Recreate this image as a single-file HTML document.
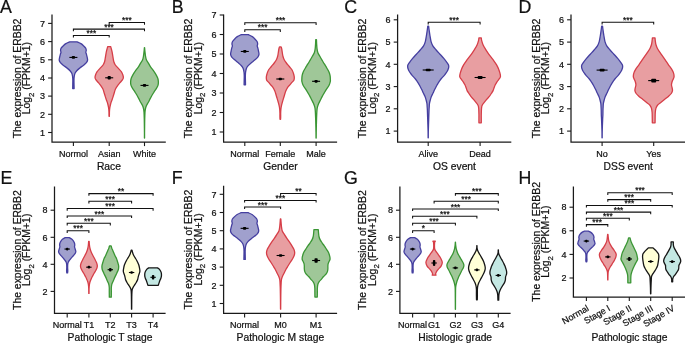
<!DOCTYPE html>
<html><head><meta charset="utf-8"><style>
html,body{margin:0;padding:0;background:#fff;}
svg{display:block;will-change:transform;}
text{font-family:"Liberation Sans", sans-serif;fill:#111;stroke:#111;stroke-width:0.22px;}
</style></head><body>
<svg width="685" height="343" viewBox="0 0 685 343">
<rect width="685" height="343" fill="#fff"/>
<g><text x="0.0" y="12.7" font-size="17.8">A</text>
<text transform="translate(20.8,78.5) rotate(-90)" text-anchor="middle" font-size="10.42">The expression of ERBB2</text>
<text transform="translate(30.4,78.2) rotate(-90)" text-anchor="middle" font-size="10.42">Log<tspan font-size="7.8" dy="3.3">2</tspan><tspan dy="-3.3"> (FPKM+1)</tspan></text>
<path d="M52.0,14.6V142.0H165.8" fill="none" stroke="#1a1a1a" stroke-width="1.25"/>
<path d="M48.1,132.5H52.0" stroke="#1a1a1a" stroke-width="1.1"/>
<text x="45.0" y="135.7" text-anchor="end" font-size="9.0" fill="#222">1</text>
<path d="M48.1,114.3H52.0" stroke="#1a1a1a" stroke-width="1.1"/>
<text x="45.0" y="117.5" text-anchor="end" font-size="9.0" fill="#222">2</text>
<path d="M48.1,96.1H52.0" stroke="#1a1a1a" stroke-width="1.1"/>
<text x="45.0" y="99.3" text-anchor="end" font-size="9.0" fill="#222">3</text>
<path d="M48.1,78.0H52.0" stroke="#1a1a1a" stroke-width="1.1"/>
<text x="45.0" y="81.2" text-anchor="end" font-size="9.0" fill="#222">4</text>
<path d="M48.1,59.8H52.0" stroke="#1a1a1a" stroke-width="1.1"/>
<text x="45.0" y="63.0" text-anchor="end" font-size="9.0" fill="#222">5</text>
<path d="M48.1,41.6H52.0" stroke="#1a1a1a" stroke-width="1.1"/>
<text x="45.0" y="44.8" text-anchor="end" font-size="9.0" fill="#222">6</text>
<path d="M48.1,23.4H52.0" stroke="#1a1a1a" stroke-width="1.1"/>
<text x="45.0" y="26.6" text-anchor="end" font-size="9.0" fill="#222">7</text>
<path d="M73.4,142.0V146.1" stroke="#1a1a1a" stroke-width="1.1"/>
<text x="73.4" y="157.0" text-anchor="middle" font-size="9.0" fill="#222">Normol</text>
<path d="M109.2,142.0V146.1" stroke="#1a1a1a" stroke-width="1.1"/>
<text x="109.2" y="157.0" text-anchor="middle" font-size="9.0" fill="#222">Asian</text>
<path d="M144.5,142.0V146.1" stroke="#1a1a1a" stroke-width="1.1"/>
<text x="144.5" y="157.0" text-anchor="middle" font-size="9.0" fill="#222">White</text>
<text x="108.9" y="169.7" text-anchor="middle" font-size="10.3">Race</text>
<path d="M69.82,41.79L76.98,41.79C77.64,42.09 79.80,42.90 80.92,43.60C82.04,44.30 82.94,45.21 83.73,45.96C84.52,46.72 85.24,47.42 85.66,48.14C86.08,48.87 86.22,49.63 86.25,50.33C86.27,51.02 85.78,51.69 85.80,52.33C85.83,52.96 86.17,53.33 86.40,54.14C86.62,54.96 86.94,56.23 87.14,57.23C87.33,58.23 87.70,59.23 87.58,60.14C87.46,61.05 87.11,61.81 86.40,62.69C85.68,63.57 84.37,64.54 83.29,65.42C82.20,66.29 80.97,67.08 79.88,67.96C78.80,68.84 77.59,69.81 76.78,70.69C75.96,71.57 75.43,72.23 75.00,73.23C74.57,74.23 74.36,75.54 74.19,76.69C74.01,77.84 73.99,78.75 73.96,80.14C73.94,81.54 74.01,83.66 74.04,85.05C74.06,86.44 74.10,87.92 74.11,88.50L72.69,88.50C72.70,87.92 72.74,86.44 72.76,85.05C72.79,83.66 72.86,81.54 72.84,80.14C72.81,78.75 72.79,77.84 72.61,76.69C72.44,75.54 72.23,74.23 71.80,73.23C71.37,72.23 70.84,71.57 70.02,70.69C69.21,69.81 68.00,68.84 66.92,67.96C65.83,67.08 64.60,66.29 63.51,65.42C62.43,64.54 61.12,63.57 60.40,62.69C59.69,61.81 59.34,61.05 59.22,60.14C59.10,59.23 59.47,58.23 59.66,57.23C59.86,56.23 60.18,54.96 60.40,54.14C60.63,53.33 60.97,52.96 61.00,52.33C61.02,51.69 60.53,51.02 60.55,50.33C60.58,49.63 60.72,48.87 61.14,48.14C61.56,47.42 62.28,46.72 63.07,45.96C63.86,45.21 64.76,44.30 65.88,43.60C67.00,42.90 69.16,42.09 69.82,41.79Z" fill="#A0A0CD" stroke="#453FA0" stroke-width="1.3" stroke-linejoin="round"/>
<path d="M69.40,57.42H77.40" stroke="#000" stroke-width="1.1"/>
<rect x="71.80" y="56.07" width="3.20" height="2.70" rx="0.8" fill="#000"/>
<path d="M107.77,46.55L110.63,46.55C110.72,46.86 110.94,47.52 111.18,48.40C111.42,49.27 111.84,50.68 112.08,51.80C112.32,52.92 112.45,54.00 112.63,55.10C112.81,56.20 112.98,57.30 113.18,58.40C113.38,59.50 113.47,60.60 113.83,61.70C114.19,62.80 114.56,63.88 115.33,65.00C116.10,66.12 117.44,67.28 118.43,68.40C119.42,69.52 120.54,70.60 121.28,71.70C122.02,72.80 122.54,73.95 122.88,75.00C123.22,76.05 123.48,77.10 123.33,78.00C123.18,78.90 122.57,79.58 121.98,80.40C121.39,81.22 120.48,82.08 119.78,82.90C119.08,83.72 118.50,84.28 117.78,85.30C117.06,86.32 116.06,87.77 115.48,89.00C114.90,90.23 114.66,91.47 114.28,92.70C113.90,93.93 113.56,95.18 113.18,96.40C112.80,97.62 112.40,98.78 111.98,100.00C111.56,101.22 111.03,102.47 110.68,103.70C110.33,104.93 110.08,106.18 109.88,107.40C109.68,108.62 109.56,109.51 109.48,111.00C109.40,112.49 109.40,115.46 109.38,116.35L109.02,116.35C109.00,115.46 109.00,112.49 108.92,111.00C108.84,109.51 108.72,108.62 108.52,107.40C108.32,106.18 108.07,104.93 107.72,103.70C107.37,102.47 106.84,101.22 106.42,100.00C106.00,98.78 105.60,97.62 105.22,96.40C104.84,95.18 104.50,93.93 104.12,92.70C103.74,91.47 103.50,90.23 102.92,89.00C102.34,87.77 101.34,86.32 100.62,85.30C99.90,84.28 99.32,83.72 98.62,82.90C97.92,82.08 97.01,81.22 96.42,80.40C95.83,79.58 95.22,78.90 95.07,78.00C94.92,77.10 95.18,76.05 95.52,75.00C95.86,73.95 96.38,72.80 97.12,71.70C97.86,70.60 98.98,69.52 99.97,68.40C100.96,67.28 102.30,66.12 103.07,65.00C103.84,63.88 104.21,62.80 104.57,61.70C104.93,60.60 105.02,59.50 105.22,58.40C105.42,57.30 105.59,56.20 105.77,55.10C105.95,54.00 106.08,52.92 106.32,51.80C106.56,50.68 106.98,49.27 107.22,48.40C107.46,47.52 107.68,46.86 107.77,46.55Z" fill="#E89EA1" stroke="#D63E48" stroke-width="1.3" stroke-linejoin="round"/>
<path d="M105.20,77.80H113.20" stroke="#000" stroke-width="1.1"/>
<rect x="107.60" y="76.10" width="3.20" height="3.40" rx="0.8" fill="#000"/>
<path d="M144.42,47.65L144.58,47.65C144.64,48.26 144.77,49.88 144.93,51.30C145.09,52.72 145.27,54.77 145.53,56.20C145.79,57.63 145.95,58.67 146.48,59.90C147.00,61.13 147.95,62.37 148.68,63.60C149.41,64.83 150.06,66.08 150.88,67.30C151.70,68.52 152.73,69.68 153.58,70.90C154.43,72.12 155.28,73.37 155.98,74.60C156.68,75.83 157.38,77.07 157.78,78.30C158.18,79.53 158.35,80.82 158.38,82.00C158.41,83.18 158.35,84.27 157.98,85.40C157.60,86.53 156.80,87.68 156.13,88.80C155.46,89.92 154.69,90.98 153.98,92.10C153.27,93.22 152.53,94.37 151.88,95.50C151.23,96.63 150.66,97.77 150.08,98.90C149.50,100.03 149.00,101.17 148.38,102.30C147.76,103.43 146.88,104.58 146.38,105.70C145.88,106.82 145.61,107.88 145.38,109.00C145.15,110.12 145.09,110.70 144.98,112.40C144.87,114.10 144.79,116.93 144.73,119.20C144.67,121.47 144.66,123.75 144.63,126.00C144.60,128.25 144.56,130.69 144.55,132.70C144.54,134.71 144.55,137.16 144.55,138.05L144.45,138.05C144.45,137.16 144.46,134.71 144.45,132.70C144.44,130.69 144.40,128.25 144.37,126.00C144.34,123.75 144.33,121.47 144.27,119.20C144.21,116.93 144.13,114.10 144.02,112.40C143.91,110.70 143.85,110.12 143.62,109.00C143.39,107.88 143.12,106.82 142.62,105.70C142.12,104.58 141.24,103.43 140.62,102.30C140.00,101.17 139.50,100.03 138.92,98.90C138.34,97.77 137.77,96.63 137.12,95.50C136.47,94.37 135.73,93.22 135.02,92.10C134.31,90.98 133.54,89.92 132.87,88.80C132.20,87.68 131.40,86.53 131.02,85.40C130.65,84.27 130.59,83.18 130.62,82.00C130.65,80.82 130.82,79.53 131.22,78.30C131.62,77.07 132.32,75.83 133.02,74.60C133.72,73.37 134.57,72.12 135.42,70.90C136.27,69.68 137.30,68.52 138.12,67.30C138.94,66.08 139.59,64.83 140.32,63.60C141.05,62.37 142.00,61.13 142.52,59.90C143.05,58.67 143.21,57.63 143.47,56.20C143.73,54.77 143.91,52.72 144.07,51.30C144.23,49.88 144.36,48.26 144.42,47.65Z" fill="#9FC798" stroke="#3A9634" stroke-width="1.3" stroke-linejoin="round"/>
<path d="M140.50,85.40H148.50" stroke="#000" stroke-width="1.1"/>
<rect x="142.90" y="84.05" width="3.20" height="2.70" rx="0.8" fill="#000"/>
<path d="M73.4,37.6V35.4H109.2V37.6" fill="none" stroke="#111" stroke-width="1.05"/>
<text x="91.3" y="36.0" text-anchor="middle" font-size="8.3" fill="#222">***</text>
<path d="M73.4,31.3V29.1H144.5V31.3" fill="none" stroke="#111" stroke-width="1.05"/>
<text x="109.0" y="29.7" text-anchor="middle" font-size="8.3" fill="#222">***</text>
<path d="M109.2,24.7V22.5H144.5V24.7" fill="none" stroke="#111" stroke-width="1.05"/>
<text x="126.8" y="23.1" text-anchor="middle" font-size="8.3" fill="#222">***</text></g>
<g><text x="171.8" y="12.7" font-size="17.8">B</text>
<text transform="translate(192.1,78.5) rotate(-90)" text-anchor="middle" font-size="10.42">The expression of ERBB2</text>
<text transform="translate(201.7,78.2) rotate(-90)" text-anchor="middle" font-size="10.42">Log<tspan font-size="7.8" dy="3.3">2</tspan><tspan dy="-3.3"> (FPKM+1)</tspan></text>
<path d="M223.6,14.6V142.0H337.1" fill="none" stroke="#1a1a1a" stroke-width="1.25"/>
<path d="M219.7,132.0H223.6" stroke="#1a1a1a" stroke-width="1.1"/>
<text x="216.6" y="135.2" text-anchor="end" font-size="9.0" fill="#222">1</text>
<path d="M219.7,112.5H223.6" stroke="#1a1a1a" stroke-width="1.1"/>
<text x="216.6" y="115.7" text-anchor="end" font-size="9.0" fill="#222">2</text>
<path d="M219.7,93.0H223.6" stroke="#1a1a1a" stroke-width="1.1"/>
<text x="216.6" y="96.2" text-anchor="end" font-size="9.0" fill="#222">3</text>
<path d="M219.7,73.5H223.6" stroke="#1a1a1a" stroke-width="1.1"/>
<text x="216.6" y="76.7" text-anchor="end" font-size="9.0" fill="#222">4</text>
<path d="M219.7,54.0H223.6" stroke="#1a1a1a" stroke-width="1.1"/>
<text x="216.6" y="57.2" text-anchor="end" font-size="9.0" fill="#222">5</text>
<path d="M219.7,34.5H223.6" stroke="#1a1a1a" stroke-width="1.1"/>
<text x="216.6" y="37.7" text-anchor="end" font-size="9.0" fill="#222">6</text>
<path d="M219.7,15.0H223.6" stroke="#1a1a1a" stroke-width="1.1"/>
<text x="216.6" y="18.2" text-anchor="end" font-size="9.0" fill="#222">7</text>
<path d="M244.8,142.0V146.1" stroke="#1a1a1a" stroke-width="1.1"/>
<text x="244.8" y="157.0" text-anchor="middle" font-size="9.0" fill="#222">Normal</text>
<path d="M280.3,142.0V146.1" stroke="#1a1a1a" stroke-width="1.1"/>
<text x="280.3" y="157.0" text-anchor="middle" font-size="9.0" fill="#222">Female</text>
<path d="M316.1,142.0V146.1" stroke="#1a1a1a" stroke-width="1.1"/>
<text x="316.1" y="157.0" text-anchor="middle" font-size="9.0" fill="#222">Male</text>
<text x="280.4" y="169.7" text-anchor="middle" font-size="10.3">Gender</text>
<path d="M241.22,34.66L248.38,34.66C249.04,34.99 251.20,35.89 252.32,36.65C253.44,37.40 254.34,38.37 255.13,39.18C255.92,39.99 256.64,40.74 257.06,41.52C257.48,42.30 257.62,43.11 257.65,43.86C257.67,44.61 257.18,45.32 257.20,46.00C257.23,46.69 257.57,47.08 257.80,47.96C258.02,48.83 258.34,50.20 258.54,51.27C258.73,52.34 259.10,53.41 258.98,54.39C258.86,55.36 258.51,56.18 257.80,57.12C257.08,58.06 255.77,59.10 254.69,60.04C253.60,60.99 252.37,61.83 251.28,62.78C250.20,63.72 248.99,64.76 248.18,65.70C247.36,66.64 246.83,67.36 246.40,68.43C245.97,69.50 245.76,70.90 245.59,72.13C245.41,73.37 245.39,74.34 245.36,75.84C245.34,77.34 245.41,79.60 245.44,81.11C245.46,82.61 245.50,84.22 245.51,84.84L244.09,84.84C244.10,84.22 244.14,82.61 244.16,81.11C244.19,79.60 244.26,77.34 244.24,75.84C244.21,74.34 244.19,73.37 244.01,72.13C243.84,70.90 243.63,69.50 243.20,68.43C242.77,67.36 242.24,66.64 241.42,65.70C240.61,64.76 239.40,63.72 238.32,62.78C237.23,61.83 236.00,60.99 234.91,60.04C233.83,59.10 232.52,58.06 231.80,57.12C231.09,56.18 230.74,55.36 230.62,54.39C230.50,53.41 230.87,52.34 231.06,51.27C231.26,50.20 231.58,48.83 231.80,47.96C232.03,47.08 232.37,46.69 232.40,46.00C232.42,45.32 231.93,44.61 231.95,43.86C231.98,43.11 232.12,42.30 232.54,41.52C232.96,40.74 233.68,39.99 234.47,39.18C235.26,38.37 236.16,37.40 237.28,36.65C238.40,35.89 240.56,34.99 241.22,34.66Z" fill="#A0A0CD" stroke="#453FA0" stroke-width="1.3" stroke-linejoin="round"/>
<path d="M240.80,51.47H248.80" stroke="#000" stroke-width="1.1"/>
<rect x="243.20" y="50.12" width="3.20" height="2.70" rx="0.8" fill="#000"/>
<path d="M279.47,46.95L281.13,46.95C281.23,47.29 281.54,48.08 281.73,49.00C281.92,49.92 282.09,51.33 282.28,52.50C282.47,53.67 282.58,54.83 282.88,56.00C283.18,57.17 283.50,58.33 284.08,59.50C284.66,60.67 285.51,61.83 286.38,63.00C287.25,64.17 288.33,65.33 289.28,66.50C290.23,67.67 291.38,68.83 292.08,70.00C292.78,71.17 293.11,72.33 293.48,73.50C293.85,74.67 294.21,75.88 294.28,77.00C294.35,78.12 294.28,79.30 293.88,80.20C293.48,81.10 292.55,81.62 291.88,82.40C291.21,83.18 290.58,84.08 289.88,84.90C289.18,85.72 288.36,86.28 287.68,87.30C287.00,88.32 286.30,89.77 285.78,91.00C285.26,92.23 284.96,93.47 284.58,94.70C284.20,95.93 283.84,97.18 283.48,98.40C283.12,99.62 282.76,100.78 282.43,102.00C282.10,103.22 281.74,104.47 281.48,105.70C281.22,106.93 281.01,108.18 280.88,109.40C280.75,110.62 280.71,111.78 280.68,113.00C280.65,114.22 280.70,115.66 280.68,116.70C280.66,117.74 280.60,118.83 280.58,119.25L280.02,119.25C280.00,118.83 279.94,117.74 279.92,116.70C279.90,115.66 279.95,114.22 279.92,113.00C279.89,111.78 279.85,110.62 279.72,109.40C279.59,108.18 279.38,106.93 279.12,105.70C278.86,104.47 278.50,103.22 278.17,102.00C277.84,100.78 277.48,99.62 277.12,98.40C276.76,97.18 276.40,95.93 276.02,94.70C275.64,93.47 275.34,92.23 274.82,91.00C274.30,89.77 273.60,88.32 272.92,87.30C272.24,86.28 271.42,85.72 270.72,84.90C270.02,84.08 269.39,83.18 268.72,82.40C268.05,81.62 267.12,81.10 266.72,80.20C266.32,79.30 266.25,78.12 266.32,77.00C266.39,75.88 266.75,74.67 267.12,73.50C267.49,72.33 267.82,71.17 268.52,70.00C269.22,68.83 270.37,67.67 271.32,66.50C272.27,65.33 273.35,64.17 274.22,63.00C275.09,61.83 275.94,60.67 276.52,59.50C277.10,58.33 277.42,57.17 277.72,56.00C278.02,54.83 278.13,53.67 278.32,52.50C278.51,51.33 278.68,49.92 278.87,49.00C279.06,48.08 279.37,47.29 279.47,46.95Z" fill="#E89EA1" stroke="#D63E48" stroke-width="1.3" stroke-linejoin="round"/>
<path d="M276.30,79.00H284.30" stroke="#000" stroke-width="1.1"/>
<rect x="278.70" y="77.65" width="3.20" height="2.70" rx="0.8" fill="#000"/>
<path d="M315.72,39.75L316.48,39.75C316.50,40.41 316.54,42.19 316.63,43.70C316.72,45.21 316.82,47.30 317.03,48.80C317.24,50.30 317.39,51.42 317.88,52.70C318.37,53.98 319.26,55.23 319.98,56.50C320.70,57.77 321.43,59.02 322.18,60.30C322.93,61.58 323.71,62.92 324.48,64.20C325.25,65.48 326.03,66.72 326.78,68.00C327.53,69.28 328.43,70.62 328.98,71.90C329.53,73.18 329.85,74.42 330.08,75.70C330.31,76.98 330.35,78.62 330.38,79.60C330.41,80.58 330.50,80.67 330.28,81.60C330.06,82.53 329.68,83.98 329.08,85.20C328.48,86.42 327.45,87.68 326.68,88.90C325.91,90.12 325.20,91.30 324.48,92.50C323.76,93.70 323.03,94.90 322.38,96.10C321.73,97.30 321.18,98.50 320.58,99.70C319.98,100.90 319.30,102.10 318.78,103.30C318.26,104.50 317.79,105.68 317.48,106.90C317.17,108.12 317.08,108.78 316.93,110.60C316.78,112.42 316.67,115.40 316.58,117.80C316.49,120.20 316.44,122.58 316.38,125.00C316.32,127.42 316.26,130.12 316.23,132.30C316.20,134.48 316.19,137.09 316.18,138.05L316.02,138.05C316.01,137.09 316.00,134.48 315.97,132.30C315.94,130.12 315.88,127.42 315.82,125.00C315.76,122.58 315.71,120.20 315.62,117.80C315.53,115.40 315.42,112.42 315.27,110.60C315.12,108.78 315.03,108.12 314.72,106.90C314.41,105.68 313.94,104.50 313.42,103.30C312.90,102.10 312.22,100.90 311.62,99.70C311.02,98.50 310.47,97.30 309.82,96.10C309.17,94.90 308.44,93.70 307.72,92.50C307.00,91.30 306.29,90.12 305.52,88.90C304.75,87.68 303.72,86.42 303.12,85.20C302.52,83.98 302.14,82.53 301.92,81.60C301.70,80.67 301.79,80.58 301.82,79.60C301.85,78.62 301.89,76.98 302.12,75.70C302.35,74.42 302.67,73.18 303.22,71.90C303.77,70.62 304.67,69.28 305.42,68.00C306.17,66.72 306.95,65.48 307.72,64.20C308.49,62.92 309.27,61.58 310.02,60.30C310.77,59.02 311.50,57.77 312.22,56.50C312.94,55.23 313.83,53.98 314.32,52.70C314.81,51.42 314.96,50.30 315.17,48.80C315.38,47.30 315.48,45.21 315.57,43.70C315.66,42.19 315.70,40.41 315.72,39.75Z" fill="#9FC798" stroke="#3A9634" stroke-width="1.3" stroke-linejoin="round"/>
<path d="M312.10,81.30H320.10" stroke="#000" stroke-width="1.1"/>
<rect x="314.50" y="79.95" width="3.20" height="2.70" rx="0.8" fill="#000"/>
<path d="M244.8,31.9V29.7H280.3V31.9" fill="none" stroke="#111" stroke-width="1.05"/>
<text x="262.6" y="30.3" text-anchor="middle" font-size="8.3" fill="#222">***</text>
<path d="M244.8,24.9V22.7H316.1V24.9" fill="none" stroke="#111" stroke-width="1.05"/>
<text x="280.5" y="23.3" text-anchor="middle" font-size="8.3" fill="#222">***</text></g>
<g><text x="344.2" y="12.7" font-size="17.8">C</text>
<text transform="translate(366.0,78.5) rotate(-90)" text-anchor="middle" font-size="10.42">The expression of ERBB2</text>
<text transform="translate(375.6,78.2) rotate(-90)" text-anchor="middle" font-size="10.42">Log<tspan font-size="7.8" dy="3.3">2</tspan><tspan dy="-3.3"> (FPKM+1)</tspan></text>
<path d="M397.6,14.6V142.0H511.3" fill="none" stroke="#1a1a1a" stroke-width="1.25"/>
<path d="M393.7,131.1H397.6" stroke="#1a1a1a" stroke-width="1.1"/>
<text x="390.6" y="134.3" text-anchor="end" font-size="9.0" fill="#222">1</text>
<path d="M393.7,108.8H397.6" stroke="#1a1a1a" stroke-width="1.1"/>
<text x="390.6" y="112.0" text-anchor="end" font-size="9.0" fill="#222">2</text>
<path d="M393.7,86.6H397.6" stroke="#1a1a1a" stroke-width="1.1"/>
<text x="390.6" y="89.8" text-anchor="end" font-size="9.0" fill="#222">3</text>
<path d="M393.7,64.3H397.6" stroke="#1a1a1a" stroke-width="1.1"/>
<text x="390.6" y="67.5" text-anchor="end" font-size="9.0" fill="#222">4</text>
<path d="M393.7,42.1H397.6" stroke="#1a1a1a" stroke-width="1.1"/>
<text x="390.6" y="45.3" text-anchor="end" font-size="9.0" fill="#222">5</text>
<path d="M393.7,19.8H397.6" stroke="#1a1a1a" stroke-width="1.1"/>
<text x="390.6" y="23.0" text-anchor="end" font-size="9.0" fill="#222">6</text>
<path d="M428.2,142.0V146.1" stroke="#1a1a1a" stroke-width="1.1"/>
<text x="428.2" y="157.0" text-anchor="middle" font-size="9.0" fill="#222">Alive</text>
<path d="M480.1,142.0V146.1" stroke="#1a1a1a" stroke-width="1.1"/>
<text x="480.1" y="157.0" text-anchor="middle" font-size="9.0" fill="#222">Dead</text>
<text x="454.5" y="169.7" text-anchor="middle" font-size="10.3">OS event</text>
<path d="M427.77,26.05L428.63,26.05C428.72,26.77 428.95,28.74 429.18,30.40C429.41,32.06 429.71,34.13 430.03,36.00C430.35,37.87 430.61,39.97 431.08,41.60C431.55,43.23 431.98,44.40 432.83,45.80C433.68,47.20 434.99,48.60 436.18,50.00C437.37,51.40 438.71,52.80 439.98,54.20C441.25,55.60 442.61,57.00 443.78,58.40C444.95,59.80 446.15,61.33 446.98,62.60C447.81,63.87 448.65,64.72 448.78,66.00C448.91,67.28 448.43,68.87 447.78,70.30C447.13,71.73 446.01,73.15 444.88,74.60C443.75,76.05 442.13,77.55 440.98,79.00C439.83,80.45 438.73,82.13 437.98,83.30C437.23,84.47 437.03,84.97 436.48,86.00C435.93,87.03 435.25,88.33 434.68,89.50C434.11,90.67 433.63,91.83 433.08,93.00C432.53,94.17 431.85,95.33 431.38,96.50C430.91,97.67 430.60,98.83 430.28,100.00C429.96,101.17 429.65,102.33 429.48,103.50C429.30,104.67 429.30,105.92 429.23,107.00C429.15,108.08 429.12,107.83 429.03,110.00C428.94,112.17 428.80,116.52 428.68,120.00C428.56,123.48 428.40,127.93 428.33,130.90C428.26,133.88 428.29,136.69 428.28,137.85L428.12,137.85C428.11,136.69 428.14,133.88 428.07,130.90C428.00,127.93 427.84,123.48 427.72,120.00C427.60,116.52 427.46,112.17 427.37,110.00C427.28,107.83 427.25,108.08 427.17,107.00C427.10,105.92 427.10,104.67 426.92,103.50C426.75,102.33 426.44,101.17 426.12,100.00C425.80,98.83 425.49,97.67 425.02,96.50C424.55,95.33 423.87,94.17 423.32,93.00C422.77,91.83 422.29,90.67 421.72,89.50C421.15,88.33 420.47,87.03 419.92,86.00C419.37,84.97 419.17,84.47 418.42,83.30C417.67,82.13 416.57,80.45 415.42,79.00C414.27,77.55 412.65,76.05 411.52,74.60C410.39,73.15 409.27,71.73 408.62,70.30C407.97,68.87 407.49,67.28 407.62,66.00C407.75,64.72 408.59,63.87 409.42,62.60C410.25,61.33 411.45,59.80 412.62,58.40C413.79,57.00 415.15,55.60 416.42,54.20C417.69,52.80 419.03,51.40 420.22,50.00C421.41,48.60 422.72,47.20 423.57,45.80C424.42,44.40 424.85,43.23 425.32,41.60C425.79,39.97 426.05,37.87 426.37,36.00C426.69,34.13 426.99,32.06 427.22,30.40C427.45,28.74 427.68,26.77 427.77,26.05Z" fill="#A0A0CD" stroke="#453FA0" stroke-width="1.3" stroke-linejoin="round"/>
<path d="M422.70,70.00H433.70" stroke="#000" stroke-width="1.1"/>
<rect x="425.75" y="68.65" width="4.90" height="2.70" rx="0.8" fill="#000"/>
<path d="M478.92,37.95L481.28,37.95C481.35,38.41 481.39,39.58 481.68,40.70C481.97,41.83 482.45,43.37 483.03,44.70C483.61,46.03 484.37,47.35 485.18,48.70C485.99,50.05 486.93,51.45 487.88,52.80C488.83,54.15 489.88,55.47 490.88,56.80C491.88,58.13 492.93,59.47 493.88,60.80C494.83,62.13 495.80,63.45 496.58,64.80C497.36,66.15 498.03,67.55 498.58,68.90C499.13,70.25 499.56,71.63 499.88,72.90C500.20,74.17 500.60,75.50 500.48,76.50C500.36,77.50 499.76,78.02 499.18,78.90C498.60,79.78 497.63,80.82 496.98,81.80C496.33,82.78 495.76,83.82 495.28,84.80C494.80,85.78 494.45,86.73 494.08,87.70C493.71,88.67 493.55,89.63 493.08,90.60C492.61,91.57 491.91,92.53 491.28,93.50C490.66,94.47 490.08,95.43 489.33,96.40C488.58,97.37 487.63,98.32 486.78,99.30C485.93,100.28 485.00,101.32 484.23,102.30C483.46,103.28 482.63,104.23 482.18,105.20C481.73,106.17 481.68,106.65 481.53,108.10C481.38,109.55 481.32,111.95 481.28,113.90C481.24,115.85 481.28,118.31 481.28,119.80C481.28,121.29 481.28,122.34 481.28,122.85L478.92,122.85C478.92,122.34 478.92,121.29 478.92,119.80C478.92,118.31 478.96,115.85 478.92,113.90C478.88,111.95 478.82,109.55 478.67,108.10C478.52,106.65 478.47,106.17 478.02,105.20C477.57,104.23 476.74,103.28 475.97,102.30C475.20,101.32 474.27,100.28 473.42,99.30C472.57,98.32 471.62,97.37 470.87,96.40C470.12,95.43 469.55,94.47 468.92,93.50C468.30,92.53 467.59,91.57 467.12,90.60C466.65,89.63 466.49,88.67 466.12,87.70C465.75,86.73 465.40,85.78 464.92,84.80C464.44,83.82 463.87,82.78 463.22,81.80C462.57,80.82 461.60,79.78 461.02,78.90C460.44,78.02 459.84,77.50 459.72,76.50C459.60,75.50 460.00,74.17 460.32,72.90C460.64,71.63 461.07,70.25 461.62,68.90C462.17,67.55 462.84,66.15 463.62,64.80C464.40,63.45 465.37,62.13 466.32,60.80C467.27,59.47 468.32,58.13 469.32,56.80C470.32,55.47 471.37,54.15 472.32,52.80C473.27,51.45 474.21,50.05 475.02,48.70C475.83,47.35 476.59,46.03 477.17,44.70C477.75,43.37 478.23,41.83 478.52,40.70C478.81,39.58 478.85,38.41 478.92,37.95Z" fill="#E89EA1" stroke="#D63E48" stroke-width="1.3" stroke-linejoin="round"/>
<path d="M474.60,77.50H485.60" stroke="#000" stroke-width="1.1"/>
<rect x="477.65" y="76.10" width="4.90" height="2.80" rx="0.8" fill="#000"/>
<path d="M428.2,24.5V22.3H480.1V24.5" fill="none" stroke="#111" stroke-width="1.05"/>
<text x="454.1" y="22.9" text-anchor="middle" font-size="8.3" fill="#222">***</text></g>
<g><text x="518.6" y="12.7" font-size="17.8">D</text>
<text transform="translate(539.7,78.5) rotate(-90)" text-anchor="middle" font-size="10.42">The expression of ERBB2</text>
<text transform="translate(549.3,78.2) rotate(-90)" text-anchor="middle" font-size="10.42">Log<tspan font-size="7.8" dy="3.3">2</tspan><tspan dy="-3.3"> (FPKM+1)</tspan></text>
<path d="M571.0,14.6V142.0H685.5" fill="none" stroke="#1a1a1a" stroke-width="1.25"/>
<path d="M567.1,131.1H571.0" stroke="#1a1a1a" stroke-width="1.1"/>
<text x="564.0" y="134.3" text-anchor="end" font-size="9.0" fill="#222">1</text>
<path d="M567.1,108.8H571.0" stroke="#1a1a1a" stroke-width="1.1"/>
<text x="564.0" y="112.0" text-anchor="end" font-size="9.0" fill="#222">2</text>
<path d="M567.1,86.6H571.0" stroke="#1a1a1a" stroke-width="1.1"/>
<text x="564.0" y="89.8" text-anchor="end" font-size="9.0" fill="#222">3</text>
<path d="M567.1,64.3H571.0" stroke="#1a1a1a" stroke-width="1.1"/>
<text x="564.0" y="67.5" text-anchor="end" font-size="9.0" fill="#222">4</text>
<path d="M567.1,42.1H571.0" stroke="#1a1a1a" stroke-width="1.1"/>
<text x="564.0" y="45.3" text-anchor="end" font-size="9.0" fill="#222">5</text>
<path d="M567.1,19.8H571.0" stroke="#1a1a1a" stroke-width="1.1"/>
<text x="564.0" y="23.0" text-anchor="end" font-size="9.0" fill="#222">6</text>
<path d="M602.1,142.0V146.1" stroke="#1a1a1a" stroke-width="1.1"/>
<text x="602.1" y="157.0" text-anchor="middle" font-size="9.0" fill="#222">No</text>
<path d="M653.7,142.0V146.1" stroke="#1a1a1a" stroke-width="1.1"/>
<text x="653.7" y="157.0" text-anchor="middle" font-size="9.0" fill="#222">Yes</text>
<text x="628.2" y="169.7" text-anchor="middle" font-size="10.3">DSS event</text>
<path d="M601.67,26.05L602.53,26.05C602.62,26.77 602.85,28.74 603.08,30.40C603.31,32.06 603.61,34.13 603.93,36.00C604.25,37.87 604.51,39.97 604.98,41.60C605.45,43.23 605.88,44.40 606.73,45.80C607.58,47.20 608.89,48.60 610.08,50.00C611.27,51.40 612.61,52.80 613.88,54.20C615.15,55.60 616.51,57.00 617.68,58.40C618.85,59.80 620.05,61.33 620.88,62.60C621.71,63.87 622.55,64.72 622.68,66.00C622.81,67.28 622.33,68.87 621.68,70.30C621.03,71.73 619.91,73.15 618.78,74.60C617.65,76.05 616.03,77.55 614.88,79.00C613.73,80.45 612.63,82.13 611.88,83.30C611.13,84.47 610.93,84.97 610.38,86.00C609.83,87.03 609.15,88.33 608.58,89.50C608.01,90.67 607.53,91.83 606.98,93.00C606.43,94.17 605.75,95.33 605.28,96.50C604.81,97.67 604.50,98.83 604.18,100.00C603.86,101.17 603.56,102.33 603.38,103.50C603.20,104.67 603.20,105.92 603.13,107.00C603.06,108.08 603.02,108.67 602.98,110.00C602.94,111.33 602.94,113.33 602.88,115.00C602.82,116.67 602.74,117.35 602.63,120.00C602.52,122.65 602.31,127.93 602.23,130.90C602.15,133.88 602.19,136.69 602.18,137.85L602.02,137.85C602.01,136.69 602.05,133.88 601.97,130.90C601.89,127.93 601.68,122.65 601.57,120.00C601.46,117.35 601.38,116.67 601.32,115.00C601.26,113.33 601.26,111.33 601.22,110.00C601.18,108.67 601.14,108.08 601.07,107.00C601.00,105.92 601.00,104.67 600.82,103.50C600.64,102.33 600.34,101.17 600.02,100.00C599.70,98.83 599.39,97.67 598.92,96.50C598.45,95.33 597.77,94.17 597.22,93.00C596.67,91.83 596.19,90.67 595.62,89.50C595.05,88.33 594.37,87.03 593.82,86.00C593.27,84.97 593.07,84.47 592.32,83.30C591.57,82.13 590.47,80.45 589.32,79.00C588.17,77.55 586.55,76.05 585.42,74.60C584.29,73.15 583.17,71.73 582.52,70.30C581.87,68.87 581.39,67.28 581.52,66.00C581.65,64.72 582.49,63.87 583.32,62.60C584.15,61.33 585.35,59.80 586.52,58.40C587.69,57.00 589.05,55.60 590.32,54.20C591.59,52.80 592.93,51.40 594.12,50.00C595.31,48.60 596.62,47.20 597.47,45.80C598.32,44.40 598.75,43.23 599.22,41.60C599.69,39.97 599.95,37.87 600.27,36.00C600.59,34.13 600.89,32.06 601.12,30.40C601.35,28.74 601.58,26.77 601.67,26.05Z" fill="#A0A0CD" stroke="#453FA0" stroke-width="1.3" stroke-linejoin="round"/>
<path d="M596.60,70.10H607.60" stroke="#000" stroke-width="1.1"/>
<rect x="599.65" y="68.75" width="4.90" height="2.70" rx="0.8" fill="#000"/>
<path d="M652.37,37.95L655.03,37.95C655.07,38.41 655.12,39.58 655.28,40.70C655.44,41.83 655.60,43.37 655.98,44.70C656.36,46.03 656.86,47.35 657.58,48.70C658.30,50.05 659.36,51.45 660.28,52.80C661.20,54.15 662.16,55.47 663.08,56.80C664.00,58.13 664.88,59.47 665.78,60.80C666.68,62.13 667.53,63.45 668.48,64.80C669.43,66.15 670.65,67.55 671.48,68.90C672.31,70.25 673.05,71.63 673.48,72.90C673.91,74.17 674.11,75.50 674.08,76.50C674.05,77.50 673.61,78.02 673.28,78.90C672.95,79.78 672.38,80.82 672.08,81.80C671.78,82.78 671.48,83.82 671.48,84.80C671.48,85.78 671.91,86.73 672.08,87.70C672.25,88.67 672.61,89.63 672.48,90.60C672.35,91.57 671.96,92.53 671.28,93.50C670.60,94.47 669.46,95.43 668.38,96.40C667.30,97.37 666.00,98.32 664.78,99.30C663.56,100.28 662.30,101.32 661.08,102.30C659.86,103.28 658.33,104.23 657.48,105.20C656.63,106.17 656.35,106.88 655.98,108.10C655.61,109.32 655.42,110.80 655.28,112.50C655.14,114.20 655.16,116.57 655.13,118.30C655.10,120.03 655.09,122.09 655.08,122.85L652.32,122.85C652.31,122.09 652.30,120.03 652.27,118.30C652.24,116.57 652.26,114.20 652.12,112.50C651.98,110.80 651.79,109.32 651.42,108.10C651.05,106.88 650.77,106.17 649.92,105.20C649.07,104.23 647.54,103.28 646.32,102.30C645.10,101.32 643.84,100.28 642.62,99.30C641.40,98.32 640.10,97.37 639.02,96.40C637.94,95.43 636.80,94.47 636.12,93.50C635.44,92.53 635.05,91.57 634.92,90.60C634.79,89.63 635.15,88.67 635.32,87.70C635.49,86.73 635.92,85.78 635.92,84.80C635.92,83.82 635.62,82.78 635.32,81.80C635.02,80.82 634.45,79.78 634.12,78.90C633.79,78.02 633.35,77.50 633.32,76.50C633.29,75.50 633.49,74.17 633.92,72.90C634.35,71.63 635.09,70.25 635.92,68.90C636.75,67.55 637.97,66.15 638.92,64.80C639.87,63.45 640.72,62.13 641.62,60.80C642.52,59.47 643.40,58.13 644.32,56.80C645.24,55.47 646.20,54.15 647.12,52.80C648.04,51.45 649.10,50.05 649.82,48.70C650.54,47.35 651.04,46.03 651.42,44.70C651.80,43.37 651.96,41.83 652.12,40.70C652.28,39.58 652.33,38.41 652.37,37.95Z" fill="#E89EA1" stroke="#D63E48" stroke-width="1.3" stroke-linejoin="round"/>
<path d="M648.20,80.60H659.20" stroke="#000" stroke-width="1.1"/>
<rect x="651.25" y="78.70" width="4.90" height="3.80" rx="0.8" fill="#000"/>
<path d="M602.1,24.5V22.3H653.7V24.5" fill="none" stroke="#111" stroke-width="1.05"/>
<text x="627.9" y="22.9" text-anchor="middle" font-size="8.3" fill="#222">***</text></g>
<g><text x="0.5" y="184.0" font-size="17.8">E</text>
<text transform="translate(20.8,250.1) rotate(-90)" text-anchor="middle" font-size="10.42">The expression of ERBB2</text>
<text transform="translate(30.4,249.8) rotate(-90)" text-anchor="middle" font-size="10.42">Log<tspan font-size="7.8" dy="3.3">2</tspan><tspan dy="-3.3"> (FPKM+1)</tspan></text>
<path d="M54.5,186.5V313.3H165.6" fill="none" stroke="#1a1a1a" stroke-width="1.25"/>
<path d="M50.6,291.4H54.5" stroke="#1a1a1a" stroke-width="1.1"/>
<text x="47.5" y="294.6" text-anchor="end" font-size="9.0" fill="#222">2</text>
<path d="M50.6,264.3H54.5" stroke="#1a1a1a" stroke-width="1.1"/>
<text x="47.5" y="267.5" text-anchor="end" font-size="9.0" fill="#222">4</text>
<path d="M50.6,237.3H54.5" stroke="#1a1a1a" stroke-width="1.1"/>
<text x="47.5" y="240.5" text-anchor="end" font-size="9.0" fill="#222">6</text>
<path d="M50.6,210.2H54.5" stroke="#1a1a1a" stroke-width="1.1"/>
<text x="47.5" y="213.4" text-anchor="end" font-size="9.0" fill="#222">8</text>
<path d="M67.2,313.3V317.4" stroke="#1a1a1a" stroke-width="1.1"/>
<text x="67.2" y="328.0" text-anchor="middle" font-size="9.0" fill="#222">Normal</text>
<path d="M88.9,313.3V317.4" stroke="#1a1a1a" stroke-width="1.1"/>
<text x="88.9" y="328.0" text-anchor="middle" font-size="9.0" fill="#222">T1</text>
<path d="M110.3,313.3V317.4" stroke="#1a1a1a" stroke-width="1.1"/>
<text x="110.3" y="328.0" text-anchor="middle" font-size="9.0" fill="#222">T2</text>
<path d="M131.6,313.3V317.4" stroke="#1a1a1a" stroke-width="1.1"/>
<text x="131.6" y="328.0" text-anchor="middle" font-size="9.0" fill="#222">T3</text>
<path d="M153.1,313.3V317.4" stroke="#1a1a1a" stroke-width="1.1"/>
<text x="153.1" y="328.0" text-anchor="middle" font-size="9.0" fill="#222">T4</text>
<text x="110.0" y="341.0" text-anchor="middle" font-size="10.3">Pathologic T stage</text>
<path d="M65.17,237.65L69.23,237.65C69.63,237.89 70.92,238.52 71.63,239.09C72.34,239.67 73.01,240.44 73.48,241.10C73.95,241.75 74.21,242.37 74.43,243.00C74.64,243.64 74.76,244.26 74.78,244.90C74.79,245.53 74.48,246.16 74.53,246.81C74.58,247.45 74.90,248.14 75.08,248.79C75.26,249.44 75.52,250.17 75.63,250.70C75.75,251.24 75.86,251.55 75.78,252.00C75.70,252.45 75.47,252.93 75.18,253.39C74.90,253.86 74.46,254.33 74.08,254.80C73.69,255.27 73.30,255.73 72.88,256.19C72.46,256.66 71.99,257.14 71.58,257.60C71.17,258.07 70.79,258.53 70.43,259.00C70.06,259.46 69.71,259.94 69.38,260.40C69.04,260.87 68.70,261.21 68.43,261.80C68.16,262.38 67.91,262.96 67.78,263.89C67.64,264.83 67.63,266.23 67.63,267.40C67.63,268.57 67.78,269.99 67.78,270.90C67.77,271.81 67.62,272.53 67.59,272.86L66.81,272.86C66.78,272.53 66.63,271.81 66.62,270.90C66.62,269.99 66.77,268.57 66.77,267.40C66.77,266.23 66.76,264.83 66.62,263.89C66.49,262.96 66.24,262.38 65.97,261.80C65.70,261.21 65.36,260.87 65.02,260.40C64.69,259.94 64.34,259.46 63.97,259.00C63.61,258.53 63.23,258.07 62.82,257.60C62.42,257.14 61.94,256.66 61.52,256.19C61.10,255.73 60.71,255.27 60.32,254.80C59.94,254.33 59.50,253.86 59.22,253.39C58.93,252.93 58.70,252.45 58.62,252.00C58.54,251.55 58.65,251.24 58.77,250.70C58.88,250.17 59.14,249.44 59.32,248.79C59.50,248.14 59.82,247.45 59.87,246.81C59.92,246.16 59.61,245.53 59.62,244.90C59.64,244.26 59.76,243.64 59.97,243.00C60.19,242.37 60.45,241.75 60.92,241.10C61.39,240.44 62.06,239.67 62.77,239.09C63.48,238.52 64.77,237.89 65.17,237.65Z" fill="#A0A0CD" stroke="#453FA0" stroke-width="1.3" stroke-linejoin="round"/>
<path d="M64.50,249.05H69.90" stroke="#000" stroke-width="1.1"/>
<rect x="66.00" y="247.70" width="2.40" height="2.70" rx="0.8" fill="#000"/>
<path d="M88.65,241.35L89.15,241.35C89.20,241.96 89.28,243.81 89.43,245.00C89.58,246.19 89.74,247.33 90.03,248.50C90.32,249.67 90.71,250.83 91.18,252.00C91.66,253.17 92.28,254.33 92.88,255.50C93.48,256.67 94.18,257.83 94.78,259.00C95.38,260.17 96.07,261.48 96.48,262.50C96.89,263.52 97.12,264.30 97.23,265.10C97.34,265.90 97.37,266.40 97.13,267.30C96.89,268.20 96.29,269.50 95.78,270.50C95.27,271.50 94.61,272.37 94.08,273.30C93.55,274.23 93.06,275.17 92.58,276.10C92.10,277.03 91.61,277.97 91.18,278.90C90.76,279.83 90.32,280.77 90.03,281.70C89.74,282.63 89.59,283.42 89.43,284.50C89.27,285.58 89.15,286.71 89.08,288.20C89.01,289.69 89.04,292.57 89.03,293.45L88.77,293.45C88.76,292.57 88.79,289.69 88.72,288.20C88.65,286.71 88.53,285.58 88.37,284.50C88.21,283.42 88.06,282.63 87.77,281.70C87.48,280.77 87.05,279.83 86.62,278.90C86.20,277.97 85.70,277.03 85.22,276.10C84.74,275.17 84.25,274.23 83.72,273.30C83.19,272.37 82.53,271.50 82.02,270.50C81.51,269.50 80.91,268.20 80.67,267.30C80.43,266.40 80.46,265.90 80.57,265.10C80.68,264.30 80.91,263.52 81.32,262.50C81.73,261.48 82.42,260.17 83.02,259.00C83.62,257.83 84.32,256.67 84.92,255.50C85.52,254.33 86.15,253.17 86.62,252.00C87.09,250.83 87.48,249.67 87.77,248.50C88.06,247.33 88.22,246.19 88.37,245.00C88.52,243.81 88.60,241.96 88.65,241.35Z" fill="#E89EA1" stroke="#D63E48" stroke-width="1.3" stroke-linejoin="round"/>
<path d="M86.20,267.20H91.60" stroke="#000" stroke-width="1.1"/>
<rect x="87.70" y="265.85" width="2.40" height="2.70" rx="0.8" fill="#000"/>
<path d="M109.47,245.85L111.13,245.85C111.23,246.23 111.44,247.29 111.73,248.10C112.02,248.91 112.49,249.82 112.88,250.70C113.27,251.58 113.70,252.52 114.08,253.40C114.46,254.28 114.78,255.13 115.18,256.00C115.58,256.87 116.11,257.73 116.48,258.60C116.85,259.47 117.10,260.33 117.38,261.20C117.66,262.07 117.96,262.95 118.18,263.80C118.40,264.65 118.65,265.35 118.68,266.30C118.71,267.25 118.68,268.40 118.38,269.50C118.08,270.60 117.36,271.83 116.88,272.90C116.40,273.97 115.95,274.90 115.48,275.90C115.01,276.90 114.53,277.90 114.08,278.90C113.63,279.90 113.18,280.92 112.78,281.90C112.38,282.88 111.92,283.82 111.68,284.80C111.44,285.78 111.39,286.63 111.33,287.80C111.27,288.97 111.34,290.24 111.33,291.80C111.32,293.36 111.29,296.26 111.28,297.15L109.32,297.15C109.31,296.26 109.28,293.36 109.27,291.80C109.26,290.24 109.33,288.97 109.27,287.80C109.21,286.63 109.16,285.78 108.92,284.80C108.68,283.82 108.22,282.88 107.82,281.90C107.42,280.92 106.97,279.90 106.52,278.90C106.07,277.90 105.59,276.90 105.12,275.90C104.65,274.90 104.20,273.97 103.72,272.90C103.24,271.83 102.52,270.60 102.22,269.50C101.92,268.40 101.89,267.25 101.92,266.30C101.95,265.35 102.20,264.65 102.42,263.80C102.64,262.95 102.94,262.07 103.22,261.20C103.50,260.33 103.75,259.47 104.12,258.60C104.49,257.73 105.02,256.87 105.42,256.00C105.82,255.13 106.14,254.28 106.52,253.40C106.90,252.52 107.33,251.58 107.72,250.70C108.11,249.82 108.58,248.91 108.87,248.10C109.16,247.29 109.37,246.23 109.47,245.85Z" fill="#9FC798" stroke="#3A9634" stroke-width="1.3" stroke-linejoin="round"/>
<path d="M107.60,269.70H113.00" stroke="#000" stroke-width="1.1"/>
<rect x="109.10" y="267.90" width="2.40" height="3.60" rx="0.8" fill="#000"/>
<path d="M131.22,250.05L131.98,250.05C132.06,250.39 132.25,251.32 132.48,252.10C132.71,252.88 132.98,253.82 133.38,254.70C133.78,255.58 134.36,256.52 134.88,257.40C135.40,258.28 136.00,259.13 136.48,260.00C136.96,260.87 137.38,261.73 137.78,262.60C138.18,263.47 138.60,264.33 138.88,265.20C139.16,266.07 139.31,266.92 139.48,267.80C139.65,268.68 139.85,269.73 139.88,270.50C139.91,271.27 139.86,271.67 139.68,272.40C139.50,273.13 139.04,274.08 138.78,274.90C138.52,275.72 138.33,276.48 138.13,277.30C137.93,278.12 137.87,278.98 137.58,279.80C137.29,280.62 136.84,281.38 136.38,282.20C135.92,283.02 135.35,283.88 134.83,284.70C134.30,285.52 133.67,286.28 133.23,287.10C132.79,287.92 132.41,288.38 132.18,289.60C131.95,290.82 131.90,292.37 131.83,294.40C131.75,296.43 131.75,299.34 131.73,301.80C131.70,304.26 131.69,307.92 131.68,309.15L131.52,309.15C131.51,307.92 131.50,304.26 131.47,301.80C131.44,299.34 131.44,296.43 131.37,294.40C131.30,292.37 131.25,290.82 131.02,289.60C130.79,288.38 130.41,287.92 129.97,287.10C129.53,286.28 128.90,285.52 128.37,284.70C127.84,283.88 127.28,283.02 126.82,282.20C126.36,281.38 125.91,280.62 125.62,279.80C125.33,278.98 125.27,278.12 125.07,277.30C124.87,276.48 124.68,275.72 124.42,274.90C124.16,274.08 123.70,273.13 123.52,272.40C123.34,271.67 123.29,271.27 123.32,270.50C123.35,269.73 123.55,268.68 123.72,267.80C123.89,266.92 124.04,266.07 124.32,265.20C124.60,264.33 125.02,263.47 125.42,262.60C125.82,261.73 126.24,260.87 126.72,260.00C127.20,259.13 127.80,258.28 128.32,257.40C128.84,256.52 129.42,255.58 129.82,254.70C130.22,253.82 130.49,252.88 130.72,252.10C130.95,251.32 131.14,250.39 131.22,250.05Z" fill="#FFFFD7" stroke="#161616" stroke-width="1.3" stroke-linejoin="round"/>
<path d="M128.90,272.50H134.30" stroke="#000" stroke-width="1.1"/>
<rect x="130.40" y="271.15" width="2.40" height="2.70" rx="0.8" fill="#000"/>
<path d="M148.72,267.85L157.48,267.85C157.81,268.09 158.88,268.59 159.48,269.30C160.08,270.01 160.75,271.17 161.08,272.10C161.41,273.03 161.48,273.97 161.48,274.90C161.48,275.83 161.31,276.83 161.08,277.70C160.85,278.57 160.41,279.23 160.08,280.10C159.75,280.97 159.38,282.02 159.08,282.90C158.78,283.77 158.41,284.94 158.28,285.35L147.92,285.35C147.79,284.94 147.42,283.77 147.12,282.90C146.82,282.02 146.45,280.97 146.12,280.10C145.79,279.23 145.35,278.57 145.12,277.70C144.89,276.83 144.72,275.83 144.72,274.90C144.72,273.97 144.79,273.03 145.12,272.10C145.45,271.17 146.12,270.01 146.72,269.30C147.32,268.59 148.39,268.09 148.72,267.85Z" fill="#C4E8E3" stroke="#161616" stroke-width="1.3" stroke-linejoin="round"/>
<path d="M150.40,277.30H155.80" stroke="#000" stroke-width="1.1"/>
<rect x="151.90" y="275.10" width="2.40" height="4.40" rx="0.8" fill="#000"/>
<path d="M67.2,232.9V230.7H88.9V232.9" fill="none" stroke="#111" stroke-width="1.05"/>
<text x="78.1" y="231.3" text-anchor="middle" font-size="8.3" fill="#222">***</text>
<path d="M67.2,225.4V223.2H110.3V225.4" fill="none" stroke="#111" stroke-width="1.05"/>
<text x="88.8" y="223.8" text-anchor="middle" font-size="8.3" fill="#222">***</text>
<path d="M67.2,218.1V215.9H131.6V218.1" fill="none" stroke="#111" stroke-width="1.05"/>
<text x="99.4" y="216.5" text-anchor="middle" font-size="8.3" fill="#222">***</text>
<path d="M67.2,210.7V208.5H153.1V210.7" fill="none" stroke="#111" stroke-width="1.05"/>
<text x="110.2" y="209.1" text-anchor="middle" font-size="8.3" fill="#222">***</text>
<path d="M88.9,203.5V201.3H131.6V203.5" fill="none" stroke="#111" stroke-width="1.05"/>
<text x="110.2" y="201.9" text-anchor="middle" font-size="8.3" fill="#222">***</text>
<path d="M88.9,195.8V193.6H153.1V195.8" fill="none" stroke="#111" stroke-width="1.05"/>
<text x="121.0" y="194.2" text-anchor="middle" font-size="8.3" fill="#222">**</text></g>
<g><text x="171.8" y="184.0" font-size="17.8">F</text>
<text transform="translate(192.1,249.7) rotate(-90)" text-anchor="middle" font-size="10.42">The expression of ERBB2</text>
<text transform="translate(201.7,249.4) rotate(-90)" text-anchor="middle" font-size="10.42">Log<tspan font-size="7.8" dy="3.3">2</tspan><tspan dy="-3.3"> (FPKM+1)</tspan></text>
<path d="M223.6,185.8V313.3H337.1" fill="none" stroke="#1a1a1a" stroke-width="1.25"/>
<path d="M219.7,303.5H223.6" stroke="#1a1a1a" stroke-width="1.1"/>
<text x="216.6" y="306.7" text-anchor="end" font-size="9.0" fill="#222">1</text>
<path d="M219.7,285.3H223.6" stroke="#1a1a1a" stroke-width="1.1"/>
<text x="216.6" y="288.5" text-anchor="end" font-size="9.0" fill="#222">2</text>
<path d="M219.7,267.1H223.6" stroke="#1a1a1a" stroke-width="1.1"/>
<text x="216.6" y="270.3" text-anchor="end" font-size="9.0" fill="#222">3</text>
<path d="M219.7,248.9H223.6" stroke="#1a1a1a" stroke-width="1.1"/>
<text x="216.6" y="252.1" text-anchor="end" font-size="9.0" fill="#222">4</text>
<path d="M219.7,230.7H223.6" stroke="#1a1a1a" stroke-width="1.1"/>
<text x="216.6" y="233.9" text-anchor="end" font-size="9.0" fill="#222">5</text>
<path d="M219.7,212.5H223.6" stroke="#1a1a1a" stroke-width="1.1"/>
<text x="216.6" y="215.7" text-anchor="end" font-size="9.0" fill="#222">6</text>
<path d="M219.7,194.3H223.6" stroke="#1a1a1a" stroke-width="1.1"/>
<text x="216.6" y="197.5" text-anchor="end" font-size="9.0" fill="#222">7</text>
<path d="M244.6,313.3V317.4" stroke="#1a1a1a" stroke-width="1.1"/>
<text x="244.6" y="328.0" text-anchor="middle" font-size="9.0" fill="#222">Normal</text>
<path d="M280.6,313.3V317.4" stroke="#1a1a1a" stroke-width="1.1"/>
<text x="280.6" y="328.0" text-anchor="middle" font-size="9.0" fill="#222">M0</text>
<path d="M316.1,313.3V317.4" stroke="#1a1a1a" stroke-width="1.1"/>
<text x="316.1" y="328.0" text-anchor="middle" font-size="9.0" fill="#222">M1</text>
<text x="280.4" y="341.0" text-anchor="middle" font-size="10.3">Pathologic M stage</text>
<path d="M241.05,212.69L248.15,212.69C248.81,212.99 250.95,213.81 252.06,214.50C253.18,215.20 254.07,216.11 254.86,216.87C255.64,217.63 256.35,218.32 256.77,219.05C257.19,219.78 257.33,220.54 257.36,221.24C257.38,221.93 256.89,222.60 256.92,223.24C256.94,223.88 257.28,224.24 257.50,225.06C257.72,225.88 258.04,227.15 258.24,228.15C258.43,229.15 258.80,230.15 258.68,231.06C258.56,231.97 258.21,232.73 257.50,233.61C256.79,234.49 255.50,235.46 254.42,236.34C253.34,237.22 252.11,238.01 251.04,238.89C249.96,239.77 248.76,240.74 247.95,241.62C247.14,242.50 246.61,243.17 246.19,244.17C245.76,245.17 245.55,246.47 245.38,247.63C245.20,248.78 245.18,249.69 245.16,251.08C245.13,252.48 245.21,254.60 245.23,256.00C245.25,257.39 245.29,258.88 245.30,259.45L243.90,259.45C243.91,258.88 243.95,257.39 243.97,256.00C243.99,254.60 244.07,252.48 244.04,251.08C244.02,249.69 244.00,248.78 243.82,247.63C243.65,246.47 243.44,245.17 243.01,244.17C242.59,243.17 242.06,242.50 241.25,241.62C240.44,240.74 239.24,239.77 238.16,238.89C237.09,238.01 235.86,237.22 234.78,236.34C233.70,235.46 232.41,234.49 231.70,233.61C230.99,232.73 230.64,231.97 230.52,231.06C230.40,230.15 230.76,229.15 230.96,228.15C231.16,227.15 231.48,225.88 231.70,225.06C231.92,224.24 232.26,223.88 232.28,223.24C232.31,222.60 231.82,221.93 231.84,221.24C231.87,220.54 232.01,219.78 232.43,219.05C232.85,218.32 233.56,217.63 234.34,216.87C235.13,216.11 236.02,215.20 237.13,214.50C238.25,213.81 240.39,212.99 241.05,212.69Z" fill="#A0A0CD" stroke="#453FA0" stroke-width="1.3" stroke-linejoin="round"/>
<path d="M240.60,228.33H248.60" stroke="#000" stroke-width="1.1"/>
<rect x="243.00" y="226.98" width="3.20" height="2.70" rx="0.8" fill="#000"/>
<path d="M280.37,218.95L280.83,218.95C280.87,219.51 280.96,220.93 281.08,222.30C281.20,223.68 281.33,225.77 281.53,227.20C281.73,228.63 281.79,229.67 282.28,230.90C282.77,232.13 283.71,233.37 284.48,234.60C285.25,235.83 286.06,237.08 286.88,238.30C287.70,239.52 288.56,240.68 289.38,241.90C290.20,243.12 291.03,244.37 291.78,245.60C292.53,246.83 293.40,248.15 293.88,249.30C294.36,250.45 294.63,251.47 294.68,252.50C294.73,253.53 294.55,254.42 294.18,255.50C293.81,256.58 293.15,257.83 292.48,259.00C291.81,260.17 290.93,261.33 290.18,262.50C289.43,263.67 288.70,264.83 287.98,266.00C287.26,267.17 286.51,268.33 285.88,269.50C285.25,270.67 284.75,271.83 284.18,273.00C283.61,274.17 282.90,275.33 282.43,276.50C281.96,277.67 281.62,278.25 281.38,280.00C281.14,281.75 281.08,284.10 280.98,287.00C280.88,289.90 280.83,293.71 280.78,297.40C280.73,301.09 280.70,307.19 280.68,309.15L280.52,309.15C280.50,307.19 280.47,301.09 280.42,297.40C280.37,293.71 280.32,289.90 280.22,287.00C280.12,284.10 280.06,281.75 279.82,280.00C279.58,278.25 279.24,277.67 278.77,276.50C278.30,275.33 277.60,274.17 277.02,273.00C276.45,271.83 275.95,270.67 275.32,269.50C274.69,268.33 273.94,267.17 273.22,266.00C272.50,264.83 271.77,263.67 271.02,262.50C270.27,261.33 269.39,260.17 268.72,259.00C268.05,257.83 267.39,256.58 267.02,255.50C266.65,254.42 266.47,253.53 266.52,252.50C266.57,251.47 266.84,250.45 267.32,249.30C267.80,248.15 268.67,246.83 269.42,245.60C270.17,244.37 271.00,243.12 271.82,241.90C272.64,240.68 273.50,239.52 274.32,238.30C275.14,237.08 275.95,235.83 276.72,234.60C277.49,233.37 278.43,232.13 278.92,230.90C279.41,229.67 279.47,228.63 279.67,227.20C279.87,225.77 280.00,223.68 280.12,222.30C280.24,220.93 280.33,219.51 280.37,218.95Z" fill="#E89EA1" stroke="#D63E48" stroke-width="1.3" stroke-linejoin="round"/>
<path d="M276.60,255.50H284.60" stroke="#000" stroke-width="1.1"/>
<rect x="279.00" y="254.15" width="3.20" height="2.70" rx="0.8" fill="#000"/>
<path d="M313.92,229.65L318.28,229.65C318.31,230.09 318.36,231.16 318.48,232.30C318.60,233.44 318.71,235.28 318.98,236.50C319.25,237.72 319.56,238.55 320.08,239.60C320.60,240.65 321.38,241.75 322.08,242.80C322.78,243.85 323.56,244.85 324.28,245.90C325.00,246.95 325.70,248.05 326.38,249.10C327.06,250.15 327.86,251.15 328.38,252.20C328.90,253.25 329.21,254.52 329.48,255.40C329.75,256.28 329.90,256.82 329.98,257.50C330.06,258.18 330.10,258.90 329.98,259.50C329.86,260.10 329.58,260.40 329.28,261.10C328.98,261.80 328.41,262.85 328.18,263.70C327.95,264.55 327.93,265.35 327.88,266.20C327.83,267.05 327.95,267.93 327.88,268.80C327.81,269.67 327.76,270.55 327.48,271.40C327.20,272.25 326.83,273.05 326.18,273.90C325.53,274.75 324.36,275.63 323.58,276.50C322.80,277.37 322.21,278.25 321.48,279.10C320.75,279.95 319.78,280.75 319.18,281.60C318.58,282.45 318.18,283.13 317.88,284.20C317.58,285.27 317.47,286.50 317.38,288.00C317.29,289.50 317.35,291.69 317.33,293.20C317.31,294.71 317.29,296.41 317.28,297.05L314.92,297.05C314.91,296.41 314.89,294.71 314.87,293.20C314.85,291.69 314.91,289.50 314.82,288.00C314.73,286.50 314.62,285.27 314.32,284.20C314.02,283.13 313.62,282.45 313.02,281.60C312.42,280.75 311.45,279.95 310.72,279.10C309.99,278.25 309.40,277.37 308.62,276.50C307.84,275.63 306.67,274.75 306.02,273.90C305.37,273.05 305.00,272.25 304.72,271.40C304.44,270.55 304.39,269.67 304.32,268.80C304.25,267.93 304.37,267.05 304.32,266.20C304.27,265.35 304.25,264.55 304.02,263.70C303.79,262.85 303.22,261.80 302.92,261.10C302.62,260.40 302.34,260.10 302.22,259.50C302.10,258.90 302.14,258.18 302.22,257.50C302.30,256.82 302.45,256.28 302.72,255.40C302.99,254.52 303.30,253.25 303.82,252.20C304.34,251.15 305.14,250.15 305.82,249.10C306.50,248.05 307.20,246.95 307.92,245.90C308.64,244.85 309.42,243.85 310.12,242.80C310.82,241.75 311.60,240.65 312.12,239.60C312.64,238.55 312.95,237.72 313.22,236.50C313.49,235.28 313.60,233.44 313.72,232.30C313.84,231.16 313.89,230.09 313.92,229.65Z" fill="#9FC798" stroke="#3A9634" stroke-width="1.3" stroke-linejoin="round"/>
<path d="M312.10,260.50H320.10" stroke="#000" stroke-width="1.1"/>
<rect x="314.50" y="258.20" width="3.20" height="4.60" rx="0.8" fill="#000"/>
<path d="M244.6,209.1V206.9H280.6V209.1" fill="none" stroke="#111" stroke-width="1.05"/>
<text x="262.6" y="207.5" text-anchor="middle" font-size="8.3" fill="#222">***</text>
<path d="M244.6,202.6V200.4H316.1V202.6" fill="none" stroke="#111" stroke-width="1.05"/>
<text x="280.4" y="201.0" text-anchor="middle" font-size="8.3" fill="#222">***</text>
<path d="M280.6,195.6V193.4H316.1V195.6" fill="none" stroke="#111" stroke-width="1.05"/>
<text x="298.4" y="194.0" text-anchor="middle" font-size="8.3" fill="#222">**</text></g>
<g><text x="344.1" y="184.1" font-size="17.8">G</text>
<text transform="translate(366.0,250.1) rotate(-90)" text-anchor="middle" font-size="10.42">The expression of ERBB2</text>
<text transform="translate(375.6,249.8) rotate(-90)" text-anchor="middle" font-size="10.42">Log<tspan font-size="7.8" dy="3.3">2</tspan><tspan dy="-3.3"> (FPKM+1)</tspan></text>
<path d="M399.9,186.5V313.3H510.6" fill="none" stroke="#1a1a1a" stroke-width="1.25"/>
<path d="M396.0,291.4H399.9" stroke="#1a1a1a" stroke-width="1.1"/>
<text x="392.9" y="294.6" text-anchor="end" font-size="9.0" fill="#222">2</text>
<path d="M396.0,264.3H399.9" stroke="#1a1a1a" stroke-width="1.1"/>
<text x="392.9" y="267.5" text-anchor="end" font-size="9.0" fill="#222">4</text>
<path d="M396.0,237.3H399.9" stroke="#1a1a1a" stroke-width="1.1"/>
<text x="392.9" y="240.5" text-anchor="end" font-size="9.0" fill="#222">6</text>
<path d="M396.0,210.2H399.9" stroke="#1a1a1a" stroke-width="1.1"/>
<text x="392.9" y="213.4" text-anchor="end" font-size="9.0" fill="#222">8</text>
<path d="M412.6,313.3V317.4" stroke="#1a1a1a" stroke-width="1.1"/>
<text x="412.6" y="328.0" text-anchor="middle" font-size="9.0" fill="#222">Normal</text>
<path d="M434.1,313.3V317.4" stroke="#1a1a1a" stroke-width="1.1"/>
<text x="434.1" y="328.0" text-anchor="middle" font-size="9.0" fill="#222">G1</text>
<path d="M455.4,313.3V317.4" stroke="#1a1a1a" stroke-width="1.1"/>
<text x="455.4" y="328.0" text-anchor="middle" font-size="9.0" fill="#222">G2</text>
<path d="M476.9,313.3V317.4" stroke="#1a1a1a" stroke-width="1.1"/>
<text x="476.9" y="328.0" text-anchor="middle" font-size="9.0" fill="#222">G3</text>
<path d="M498.3,313.3V317.4" stroke="#1a1a1a" stroke-width="1.1"/>
<text x="498.3" y="328.0" text-anchor="middle" font-size="9.0" fill="#222">G4</text>
<text x="455.2" y="341.0" text-anchor="middle" font-size="10.3">Histologic grade</text>
<path d="M410.57,237.65L414.63,237.65C415.03,237.89 416.32,238.52 417.03,239.09C417.74,239.67 418.41,240.44 418.88,241.10C419.35,241.75 419.61,242.37 419.83,243.00C420.04,243.64 420.16,244.26 420.18,244.90C420.19,245.53 419.88,246.16 419.93,246.81C419.98,247.45 420.30,248.14 420.48,248.79C420.66,249.44 420.92,250.17 421.03,250.70C421.15,251.24 421.26,251.55 421.18,252.00C421.10,252.45 420.87,252.93 420.58,253.39C420.30,253.86 419.86,254.33 419.48,254.80C419.09,255.27 418.70,255.73 418.28,256.19C417.86,256.66 417.39,257.14 416.98,257.60C416.57,258.07 416.19,258.53 415.83,259.00C415.46,259.46 415.11,259.94 414.78,260.40C414.44,260.87 414.10,261.21 413.83,261.80C413.56,262.38 413.31,262.96 413.18,263.89C413.04,264.83 413.03,266.23 413.03,267.40C413.03,268.57 413.18,269.99 413.18,270.90C413.17,271.81 413.02,272.53 412.99,272.86L412.21,272.86C412.18,272.53 412.03,271.81 412.02,270.90C412.02,269.99 412.17,268.57 412.17,267.40C412.17,266.23 412.16,264.83 412.02,263.89C411.89,262.96 411.64,262.38 411.37,261.80C411.10,261.21 410.76,260.87 410.42,260.40C410.09,259.94 409.74,259.46 409.37,259.00C409.01,258.53 408.63,258.07 408.22,257.60C407.81,257.14 407.34,256.66 406.92,256.19C406.50,255.73 406.11,255.27 405.72,254.80C405.34,254.33 404.90,253.86 404.62,253.39C404.33,252.93 404.10,252.45 404.02,252.00C403.94,251.55 404.05,251.24 404.17,250.70C404.28,250.17 404.54,249.44 404.72,248.79C404.90,248.14 405.22,247.45 405.27,246.81C405.32,246.16 405.01,245.53 405.02,244.90C405.04,244.26 405.16,243.64 405.37,243.00C405.59,242.37 405.85,241.75 406.32,241.10C406.79,240.44 407.46,239.67 408.17,239.09C408.88,238.52 410.17,237.89 410.57,237.65Z" fill="#A0A0CD" stroke="#453FA0" stroke-width="1.3" stroke-linejoin="round"/>
<path d="M409.90,249.05H415.30" stroke="#000" stroke-width="1.1"/>
<rect x="411.40" y="247.70" width="2.40" height="2.70" rx="0.8" fill="#000"/>
<path d="M432.87,241.25L435.33,241.25C435.22,241.43 434.82,241.62 434.68,242.30C434.54,242.98 434.48,244.18 434.48,245.30C434.48,246.42 434.44,247.98 434.68,249.00C434.92,250.02 435.41,250.58 435.93,251.40C436.45,252.22 437.19,253.08 437.78,253.90C438.37,254.72 438.96,255.48 439.48,256.30C440.00,257.12 440.46,257.78 440.93,258.80C441.40,259.82 442.25,261.18 442.28,262.40C442.31,263.62 441.73,264.97 441.08,266.10C440.43,267.23 439.14,268.28 438.38,269.20C437.62,270.12 436.98,270.88 436.53,271.60C436.08,272.32 435.78,272.91 435.68,273.50C435.58,274.09 435.89,274.88 435.93,275.15L432.27,275.15C432.31,274.88 432.62,274.09 432.52,273.50C432.42,272.91 432.12,272.32 431.67,271.60C431.22,270.88 430.58,270.12 429.82,269.20C429.06,268.28 427.77,267.23 427.12,266.10C426.47,264.97 425.89,263.62 425.92,262.40C425.95,261.18 426.80,259.82 427.27,258.80C427.74,257.78 428.20,257.12 428.72,256.30C429.25,255.48 429.83,254.72 430.42,253.90C431.01,253.08 431.75,252.22 432.27,251.40C432.79,250.58 433.28,250.02 433.52,249.00C433.76,247.98 433.72,246.42 433.72,245.30C433.72,244.18 433.66,242.98 433.52,242.30C433.38,241.62 432.98,241.43 432.87,241.25Z" fill="#E89EA1" stroke="#D63E48" stroke-width="1.3" stroke-linejoin="round"/>
<path d="M431.40,263.00H436.80" stroke="#000" stroke-width="1.1"/>
<rect x="432.90" y="260.10" width="2.40" height="5.80" rx="0.8" fill="#000"/>
<path d="M455.35,242.05L455.45,242.05C455.49,242.61 455.56,244.21 455.71,245.40C455.86,246.59 456.02,247.95 456.33,249.20C456.64,250.45 457.05,251.67 457.58,252.90C458.11,254.13 458.93,255.52 459.53,256.60C460.13,257.68 460.63,258.47 461.18,259.40C461.73,260.33 462.38,261.27 462.83,262.20C463.28,263.13 463.79,264.07 463.88,265.00C463.97,265.93 463.68,266.97 463.38,267.80C463.08,268.63 462.60,269.02 462.08,270.00C461.56,270.98 460.88,272.48 460.28,273.70C459.68,274.92 459.02,276.08 458.48,277.30C457.94,278.52 457.47,279.57 457.03,281.00C456.59,282.43 456.07,284.47 455.83,285.90C455.59,287.33 455.64,287.15 455.58,289.60C455.52,292.05 455.50,297.33 455.48,300.60C455.46,303.88 455.45,307.81 455.45,309.25L455.35,309.25C455.34,307.81 455.34,303.88 455.32,300.60C455.30,297.33 455.28,292.05 455.22,289.60C455.16,287.15 455.21,287.33 454.97,285.90C454.73,284.47 454.21,282.43 453.77,281.00C453.33,279.57 452.86,278.52 452.32,277.30C451.78,276.08 451.12,274.92 450.52,273.70C449.92,272.48 449.24,270.98 448.72,270.00C448.20,269.02 447.72,268.63 447.42,267.80C447.12,266.97 446.83,265.93 446.92,265.00C447.01,264.07 447.52,263.13 447.97,262.20C448.42,261.27 449.07,260.33 449.62,259.40C450.17,258.47 450.67,257.68 451.27,256.60C451.87,255.52 452.69,254.13 453.22,252.90C453.75,251.67 454.16,250.45 454.47,249.20C454.78,247.95 454.94,246.59 455.09,245.40C455.24,244.21 455.31,242.61 455.35,242.05Z" fill="#9FC798" stroke="#3A9634" stroke-width="1.3" stroke-linejoin="round"/>
<path d="M452.70,267.90H458.10" stroke="#000" stroke-width="1.1"/>
<rect x="454.20" y="266.55" width="2.40" height="2.70" rx="0.8" fill="#000"/>
<path d="M476.82,245.65L476.98,245.65C477.00,246.06 476.95,247.26 477.08,248.10C477.21,248.94 477.44,249.82 477.78,250.70C478.12,251.58 478.65,252.52 479.13,253.40C479.61,254.28 480.17,255.13 480.68,256.00C481.19,256.87 481.71,257.73 482.18,258.60C482.65,259.47 483.11,260.33 483.48,261.20C483.85,262.07 484.11,262.92 484.38,263.80C484.65,264.68 484.95,265.62 485.08,266.50C485.21,267.38 485.34,268.08 485.18,269.10C485.02,270.12 484.60,271.45 484.13,272.60C483.66,273.75 482.97,274.88 482.38,276.00C481.79,277.12 481.16,278.20 480.58,279.30C480.00,280.40 479.35,281.50 478.88,282.60C478.41,283.70 478.03,284.80 477.78,285.90C477.53,287.00 477.45,287.73 477.38,289.20C477.31,290.67 477.40,292.94 477.38,294.70C477.36,296.46 477.30,298.91 477.28,299.75L476.52,299.75C476.50,298.91 476.44,296.46 476.42,294.70C476.40,292.94 476.49,290.67 476.42,289.20C476.35,287.73 476.27,287.00 476.02,285.90C475.77,284.80 475.39,283.70 474.92,282.60C474.45,281.50 473.80,280.40 473.22,279.30C472.64,278.20 472.01,277.12 471.42,276.00C470.83,274.88 470.14,273.75 469.67,272.60C469.20,271.45 468.78,270.12 468.62,269.10C468.46,268.08 468.59,267.38 468.72,266.50C468.85,265.62 469.15,264.68 469.42,263.80C469.69,262.92 469.95,262.07 470.32,261.20C470.69,260.33 471.15,259.47 471.62,258.60C472.09,257.73 472.61,256.87 473.12,256.00C473.63,255.13 474.19,254.28 474.67,253.40C475.15,252.52 475.68,251.58 476.02,250.70C476.36,249.82 476.59,248.94 476.72,248.10C476.85,247.26 476.80,246.06 476.82,245.65Z" fill="#FFFFD7" stroke="#161616" stroke-width="1.3" stroke-linejoin="round"/>
<path d="M474.20,269.90H479.60" stroke="#000" stroke-width="1.1"/>
<rect x="475.70" y="268.55" width="2.40" height="2.70" rx="0.8" fill="#000"/>
<path d="M498.22,249.85L498.38,249.85C498.41,250.38 498.36,252.04 498.55,253.00C498.74,253.96 499.14,254.73 499.53,255.60C499.92,256.47 500.40,257.33 500.88,258.20C501.36,259.07 501.90,259.92 502.38,260.80C502.86,261.68 503.35,262.62 503.78,263.50C504.21,264.38 504.63,265.23 504.98,266.10C505.33,266.97 505.61,267.83 505.88,268.70C506.15,269.57 506.46,270.43 506.58,271.30C506.70,272.17 506.75,272.97 506.58,273.90C506.41,274.83 505.78,275.90 505.58,276.90C505.38,277.90 505.58,278.90 505.38,279.90C505.18,280.90 504.86,281.92 504.38,282.90C503.90,283.88 503.08,284.82 502.48,285.80C501.88,286.78 501.28,287.80 500.78,288.80C500.28,289.80 499.80,290.80 499.48,291.80C499.16,292.80 499.01,293.41 498.88,294.80C498.75,296.19 498.71,299.26 498.68,300.15L497.92,300.15C497.89,299.26 497.85,296.19 497.72,294.80C497.59,293.41 497.44,292.80 497.12,291.80C496.80,290.80 496.32,289.80 495.82,288.80C495.32,287.80 494.72,286.78 494.12,285.80C493.52,284.82 492.70,283.88 492.22,282.90C491.74,281.92 491.42,280.90 491.22,279.90C491.02,278.90 491.22,277.90 491.02,276.90C490.82,275.90 490.19,274.83 490.02,273.90C489.85,272.97 489.90,272.17 490.02,271.30C490.14,270.43 490.45,269.57 490.72,268.70C490.99,267.83 491.27,266.97 491.62,266.10C491.97,265.23 492.39,264.38 492.82,263.50C493.25,262.62 493.74,261.68 494.22,260.80C494.70,259.92 495.25,259.07 495.72,258.20C496.20,257.33 496.68,256.47 497.07,255.60C497.46,254.73 497.86,253.96 498.05,253.00C498.24,252.04 498.19,250.38 498.22,249.85Z" fill="#C4E8E3" stroke="#161616" stroke-width="1.3" stroke-linejoin="round"/>
<path d="M495.60,275.40H501.00" stroke="#000" stroke-width="1.1"/>
<rect x="497.10" y="274.05" width="2.40" height="2.70" rx="0.8" fill="#000"/>
<path d="M412.6,232.9V230.7H434.1V232.9" fill="none" stroke="#111" stroke-width="1.05"/>
<text x="423.4" y="231.3" text-anchor="middle" font-size="8.3" fill="#222">*</text>
<path d="M412.6,225.4V223.2H455.4V225.4" fill="none" stroke="#111" stroke-width="1.05"/>
<text x="434.0" y="223.8" text-anchor="middle" font-size="8.3" fill="#222">***</text>
<path d="M412.6,218.4V216.2H476.9V218.4" fill="none" stroke="#111" stroke-width="1.05"/>
<text x="444.8" y="216.8" text-anchor="middle" font-size="8.3" fill="#222">***</text>
<path d="M412.6,211.1V208.9H498.3V211.1" fill="none" stroke="#111" stroke-width="1.05"/>
<text x="455.5" y="209.5" text-anchor="middle" font-size="8.3" fill="#222">***</text>
<path d="M434.1,203.5V201.3H498.3V203.5" fill="none" stroke="#111" stroke-width="1.05"/>
<text x="466.2" y="201.9" text-anchor="middle" font-size="8.3" fill="#222">***</text>
<path d="M455.4,195.8V193.6H498.3V195.8" fill="none" stroke="#111" stroke-width="1.05"/>
<text x="476.9" y="194.2" text-anchor="middle" font-size="8.3" fill="#222">***</text></g>
<g><text x="518.6" y="184.0" font-size="17.8">H</text>
<text transform="translate(539.7,241.9) rotate(-90)" text-anchor="middle" font-size="10.42">The expression of ERBB2</text>
<text transform="translate(549.3,241.6) rotate(-90)" text-anchor="middle" font-size="10.42">Log<tspan font-size="7.8" dy="3.3">2</tspan><tspan dy="-3.3"> (FPKM+1)</tspan></text>
<path d="M573.4,186.5V297.0H685.5" fill="none" stroke="#1a1a1a" stroke-width="1.25"/>
<path d="M569.5,278.0H573.4" stroke="#1a1a1a" stroke-width="1.1"/>
<text x="566.4" y="281.2" text-anchor="end" font-size="9.0" fill="#222">2</text>
<path d="M569.5,254.4H573.4" stroke="#1a1a1a" stroke-width="1.1"/>
<text x="566.4" y="257.6" text-anchor="end" font-size="9.0" fill="#222">4</text>
<path d="M569.5,230.8H573.4" stroke="#1a1a1a" stroke-width="1.1"/>
<text x="566.4" y="234.0" text-anchor="end" font-size="9.0" fill="#222">6</text>
<path d="M569.5,207.2H573.4" stroke="#1a1a1a" stroke-width="1.1"/>
<text x="566.4" y="210.4" text-anchor="end" font-size="9.0" fill="#222">8</text>
<path d="M586.4,297.0V301.1" stroke="#1a1a1a" stroke-width="1.1"/>
<text transform="translate(589.5,310.0) rotate(-30)" text-anchor="end" font-size="9.0" fill="#222">Normal</text>
<path d="M607.8,297.0V301.1" stroke="#1a1a1a" stroke-width="1.1"/>
<text transform="translate(610.9,310.0) rotate(-30)" text-anchor="end" font-size="9.0" fill="#222">Stage I</text>
<path d="M629.3,297.0V301.1" stroke="#1a1a1a" stroke-width="1.1"/>
<text transform="translate(632.4,310.0) rotate(-30)" text-anchor="end" font-size="9.0" fill="#222">Stage II</text>
<path d="M650.7,297.0V301.1" stroke="#1a1a1a" stroke-width="1.1"/>
<text transform="translate(653.8,310.0) rotate(-30)" text-anchor="end" font-size="9.0" fill="#222">Stage III</text>
<path d="M672.2,297.0V301.1" stroke="#1a1a1a" stroke-width="1.1"/>
<text transform="translate(675.3,310.0) rotate(-30)" text-anchor="end" font-size="9.0" fill="#222">Stage IV</text>
<text x="629.5" y="341.0" text-anchor="middle" font-size="10.3">Pathologic stage</text>
<path d="M584.37,231.20L588.43,231.20C588.83,231.39 590.12,231.89 590.83,232.38C591.54,232.87 592.21,233.56 592.68,234.13C593.15,234.70 593.41,235.24 593.63,235.79C593.84,236.34 593.96,236.89 593.98,237.44C593.99,238.00 593.68,238.54 593.73,239.11C593.78,239.67 594.10,240.28 594.28,240.84C594.46,241.41 594.72,242.04 594.83,242.51C594.95,242.97 595.06,243.25 594.98,243.64C594.90,244.03 594.67,244.45 594.38,244.85C594.10,245.26 593.66,245.67 593.28,246.08C592.89,246.49 592.50,246.89 592.08,247.30C591.66,247.70 591.18,248.12 590.78,248.52C590.37,248.93 589.99,249.33 589.63,249.74C589.26,250.15 588.91,250.56 588.58,250.97C588.24,251.37 587.90,251.67 587.63,252.18C587.36,252.69 587.11,253.20 586.98,254.01C586.84,254.82 586.83,256.05 586.83,257.07C586.83,258.09 586.98,259.34 586.98,260.12C586.97,260.90 586.82,261.48 586.79,261.76L586.01,261.76C585.98,261.48 585.83,260.90 585.82,260.12C585.82,259.34 585.97,258.09 585.97,257.07C585.97,256.05 585.96,254.82 585.82,254.01C585.69,253.20 585.44,252.69 585.17,252.18C584.90,251.67 584.56,251.37 584.22,250.97C583.89,250.56 583.54,250.15 583.17,249.74C582.81,249.33 582.43,248.93 582.02,248.52C581.62,248.12 581.14,247.70 580.72,247.30C580.30,246.89 579.91,246.49 579.52,246.08C579.14,245.67 578.70,245.26 578.42,244.85C578.13,244.45 577.90,244.03 577.82,243.64C577.74,243.25 577.85,242.97 577.97,242.51C578.08,242.04 578.34,241.41 578.52,240.84C578.70,240.28 579.02,239.67 579.07,239.11C579.12,238.54 578.81,238.00 578.82,237.44C578.84,236.89 578.96,236.34 579.17,235.79C579.39,235.24 579.65,234.70 580.12,234.13C580.59,233.56 581.26,232.87 581.97,232.38C582.68,231.89 583.97,231.39 584.37,231.20Z" fill="#A0A0CD" stroke="#453FA0" stroke-width="1.3" stroke-linejoin="round"/>
<path d="M583.70,241.07H589.10" stroke="#000" stroke-width="1.1"/>
<rect x="585.20" y="239.72" width="2.40" height="2.70" rx="0.8" fill="#000"/>
<path d="M607.62,234.45L607.98,234.45C608.03,234.96 608.15,236.44 608.28,237.50C608.41,238.56 608.49,239.72 608.78,240.80C609.07,241.88 609.50,242.92 610.03,244.00C610.56,245.08 611.37,246.35 611.98,247.30C612.59,248.25 613.12,248.88 613.68,249.70C614.24,250.52 614.91,251.43 615.33,252.20C615.75,252.97 616.09,253.52 616.18,254.30C616.27,255.08 616.13,256.00 615.88,256.90C615.63,257.80 615.11,258.83 614.68,259.70C614.25,260.57 613.76,261.28 613.28,262.10C612.80,262.92 612.30,263.78 611.78,264.60C611.26,265.42 610.66,266.18 610.18,267.00C609.70,267.82 609.21,268.68 608.88,269.50C608.55,270.32 608.33,270.95 608.18,271.90C608.03,272.85 608.03,273.86 607.98,275.20C607.93,276.54 607.90,279.16 607.88,279.95L607.72,279.95C607.70,279.16 607.67,276.54 607.62,275.20C607.57,273.86 607.57,272.85 607.42,271.90C607.27,270.95 607.05,270.32 606.72,269.50C606.39,268.68 605.90,267.82 605.42,267.00C604.94,266.18 604.34,265.42 603.82,264.60C603.30,263.78 602.80,262.92 602.32,262.10C601.84,261.28 601.35,260.57 600.92,259.70C600.49,258.83 599.97,257.80 599.72,256.90C599.47,256.00 599.33,255.08 599.42,254.30C599.51,253.52 599.85,252.97 600.27,252.20C600.69,251.43 601.36,250.52 601.92,249.70C602.48,248.88 603.01,248.25 603.62,247.30C604.23,246.35 605.04,245.08 605.57,244.00C606.10,242.92 606.53,241.88 606.82,240.80C607.11,239.72 607.19,238.56 607.32,237.50C607.45,236.44 607.57,234.96 607.62,234.45Z" fill="#E89EA1" stroke="#D63E48" stroke-width="1.3" stroke-linejoin="round"/>
<path d="M605.10,256.90H610.50" stroke="#000" stroke-width="1.1"/>
<rect x="606.60" y="255.55" width="2.40" height="2.70" rx="0.8" fill="#000"/>
<path d="M628.57,237.95L630.03,237.95C630.11,238.28 630.31,239.18 630.53,239.90C630.75,240.62 631.00,241.48 631.33,242.30C631.65,243.12 632.09,243.98 632.48,244.80C632.87,245.62 633.28,246.38 633.68,247.20C634.08,248.02 634.50,248.88 634.88,249.70C635.26,250.52 635.65,251.28 635.98,252.10C636.30,252.92 636.61,253.78 636.83,254.60C637.05,255.42 637.15,256.27 637.28,257.00C637.41,257.73 637.65,258.43 637.63,259.00C637.61,259.57 637.49,259.75 637.18,260.40C636.87,261.05 636.21,262.08 635.78,262.90C635.35,263.72 634.98,264.48 634.58,265.30C634.18,266.12 633.75,266.98 633.38,267.80C633.01,268.62 632.69,269.38 632.38,270.20C632.07,271.02 631.76,271.88 631.53,272.70C631.30,273.52 631.10,274.15 630.98,275.10C630.85,276.05 630.81,277.32 630.78,278.40C630.75,279.48 630.78,280.86 630.78,281.60C630.78,282.34 630.78,282.64 630.78,282.85L627.82,282.85C627.82,282.64 627.82,282.34 627.82,281.60C627.82,280.86 627.85,279.48 627.82,278.40C627.79,277.32 627.75,276.05 627.62,275.10C627.50,274.15 627.30,273.52 627.07,272.70C626.84,271.88 626.53,271.02 626.22,270.20C625.91,269.38 625.59,268.62 625.22,267.80C624.85,266.98 624.42,266.12 624.02,265.30C623.62,264.48 623.25,263.72 622.82,262.90C622.39,262.08 621.73,261.05 621.42,260.40C621.11,259.75 620.99,259.57 620.97,259.00C620.95,258.43 621.19,257.73 621.32,257.00C621.45,256.27 621.55,255.42 621.77,254.60C621.99,253.78 622.30,252.92 622.62,252.10C622.94,251.28 623.34,250.52 623.72,249.70C624.10,248.88 624.52,248.02 624.92,247.20C625.32,246.38 625.73,245.62 626.12,244.80C626.51,243.98 626.94,243.12 627.27,242.30C627.60,241.48 627.85,240.62 628.07,239.90C628.29,239.18 628.49,238.28 628.57,237.95Z" fill="#9FC798" stroke="#3A9634" stroke-width="1.3" stroke-linejoin="round"/>
<path d="M626.60,259.00H632.00" stroke="#000" stroke-width="1.1"/>
<rect x="628.10" y="257.00" width="2.40" height="4.00" rx="0.8" fill="#000"/>
<path d="M648.57,247.85L652.83,247.85C653.06,248.03 653.56,248.33 654.18,248.90C654.81,249.47 655.88,250.48 656.58,251.30C657.28,252.12 658.00,252.98 658.38,253.80C658.75,254.62 658.78,255.38 658.83,256.20C658.88,257.02 658.76,257.88 658.68,258.70C658.61,259.52 658.50,260.28 658.38,261.10C658.26,261.92 658.14,262.78 657.98,263.60C657.82,264.42 657.71,265.18 657.43,266.00C657.15,266.82 656.74,267.65 656.28,268.50C655.82,269.35 655.26,270.20 654.68,271.10C654.10,272.00 653.31,273.00 652.78,273.90C652.26,274.80 651.78,275.48 651.53,276.50C651.28,277.52 651.36,278.55 651.28,280.00C651.20,281.45 651.10,283.45 651.03,285.20C650.96,286.95 650.91,289.06 650.88,290.50C650.85,291.94 650.84,293.29 650.83,293.85L650.57,293.85C650.56,293.29 650.55,291.94 650.52,290.50C650.49,289.06 650.44,286.95 650.37,285.20C650.30,283.45 650.20,281.45 650.12,280.00C650.04,278.55 650.12,277.52 649.87,276.50C649.62,275.48 649.14,274.80 648.62,273.90C648.10,273.00 647.30,272.00 646.72,271.10C646.14,270.20 645.58,269.35 645.12,268.50C644.66,267.65 644.25,266.82 643.97,266.00C643.69,265.18 643.58,264.42 643.42,263.60C643.26,262.78 643.14,261.92 643.02,261.10C642.90,260.28 642.80,259.52 642.72,258.70C642.64,257.88 642.52,257.02 642.57,256.20C642.62,255.38 642.65,254.62 643.02,253.80C643.40,252.98 644.12,252.12 644.82,251.30C645.52,250.48 646.60,249.47 647.22,248.90C647.85,248.33 648.35,248.03 648.57,247.85Z" fill="#FFFFD7" stroke="#161616" stroke-width="1.3" stroke-linejoin="round"/>
<path d="M648.00,261.50H653.40" stroke="#000" stroke-width="1.1"/>
<rect x="649.50" y="260.15" width="2.40" height="2.70" rx="0.8" fill="#000"/>
<path d="M671.07,241.95L673.33,241.95C673.33,242.38 673.25,243.66 673.33,244.50C673.41,245.34 673.56,246.18 673.83,247.00C674.11,247.82 674.56,248.58 674.98,249.40C675.40,250.22 675.91,251.08 676.38,251.90C676.85,252.72 677.30,253.50 677.78,254.30C678.26,255.10 678.84,255.88 679.28,256.70C679.72,257.52 680.20,258.38 680.43,259.20C680.66,260.02 680.82,260.80 680.68,261.60C680.54,262.40 679.88,263.35 679.58,264.00C679.28,264.65 679.01,264.92 678.88,265.50C678.75,266.08 678.85,266.85 678.78,267.50C678.71,268.15 678.76,268.67 678.48,269.40C678.20,270.13 677.58,271.08 677.08,271.90C676.58,272.72 676.07,273.50 675.48,274.30C674.89,275.10 673.99,275.88 673.53,276.70C673.07,277.52 672.87,278.34 672.73,279.20C672.59,280.06 672.69,281.41 672.68,281.85L671.72,281.85C671.71,281.41 671.81,280.06 671.67,279.20C671.53,278.34 671.33,277.52 670.87,276.70C670.41,275.88 669.51,275.10 668.92,274.30C668.33,273.50 667.82,272.72 667.32,271.90C666.82,271.08 666.20,270.13 665.92,269.40C665.64,268.67 665.69,268.15 665.62,267.50C665.55,266.85 665.65,266.08 665.52,265.50C665.39,264.92 665.12,264.65 664.82,264.00C664.52,263.35 663.86,262.40 663.72,261.60C663.58,260.80 663.74,260.02 663.97,259.20C664.20,258.38 664.68,257.52 665.12,256.70C665.56,255.88 666.14,255.10 666.62,254.30C667.10,253.50 667.55,252.72 668.02,251.90C668.49,251.08 669.00,250.22 669.42,249.40C669.85,248.58 670.30,247.82 670.57,247.00C670.85,246.18 670.99,245.34 671.07,244.50C671.15,243.66 671.07,242.38 671.07,241.95Z" fill="#C4E8E3" stroke="#161616" stroke-width="1.3" stroke-linejoin="round"/>
<path d="M669.50,261.60H674.90" stroke="#000" stroke-width="1.1"/>
<rect x="671.00" y="260.25" width="2.40" height="2.70" rx="0.8" fill="#000"/>
<path d="M586.4,226.8V224.6H607.8V226.8" fill="none" stroke="#111" stroke-width="1.05"/>
<text x="597.1" y="225.2" text-anchor="middle" font-size="8.3" fill="#222">***</text>
<path d="M586.4,220.4V218.2H629.3V220.4" fill="none" stroke="#111" stroke-width="1.05"/>
<text x="607.8" y="218.8" text-anchor="middle" font-size="8.3" fill="#222">***</text>
<path d="M586.4,214.3V212.1H650.7V214.3" fill="none" stroke="#111" stroke-width="1.05"/>
<text x="618.5" y="212.7" text-anchor="middle" font-size="8.3" fill="#222">***</text>
<path d="M586.4,207.6V205.4H672.2V207.6" fill="none" stroke="#111" stroke-width="1.05"/>
<text x="629.3" y="206.0" text-anchor="middle" font-size="8.3" fill="#222">***</text>
<path d="M607.8,201.8V199.6H650.7V201.8" fill="none" stroke="#111" stroke-width="1.05"/>
<text x="629.2" y="200.2" text-anchor="middle" font-size="8.3" fill="#222">***</text>
<path d="M607.8,195.0V192.8H672.2V195.0" fill="none" stroke="#111" stroke-width="1.05"/>
<text x="640.0" y="193.4" text-anchor="middle" font-size="8.3" fill="#222">***</text></g>
</svg>
</body></html>
